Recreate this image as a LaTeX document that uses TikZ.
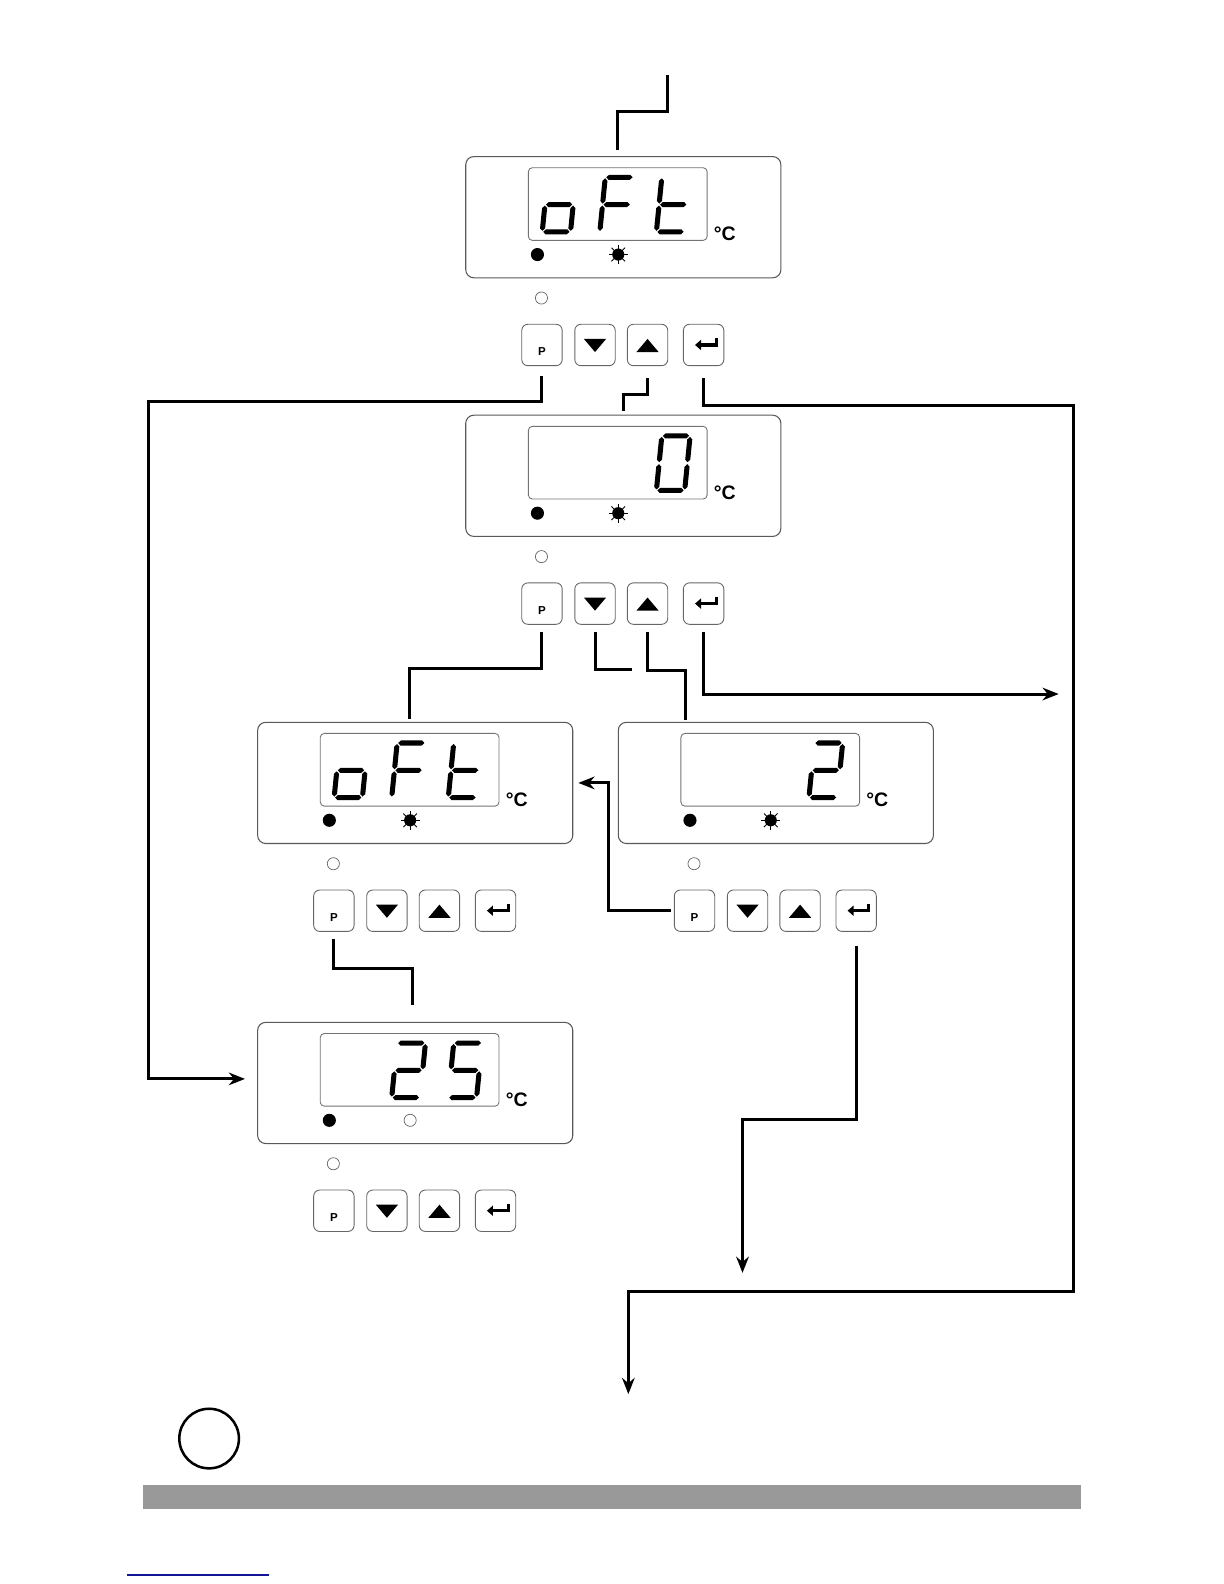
\documentclass[tikz,border=0pt]{standalone}
\usepackage{fontspec}
\setsansfont{Liberation Sans}
\usetikzlibrary{arrows.meta}

\definecolor{bargray}{HTML}{999999}
\definecolor{linkblue}{RGB}{20,20,150}

% one bar of a 7-segment digit
\newcommand{\hseg}[3]{\fill (#1,#3) -- (#1+2.5,#3-2.5) -- (#2-2.5,#3-2.5) -- (#2,#3) -- (#2-2.5,#3+2.5) -- (#1+2.5,#3+2.5) -- cycle;}
\newcommand{\vseg}[3]{\fill (#1,#2) -- (#1+2.5,#2+2.5) -- (#1+2.5,#3-2.5) -- (#1,#3) -- (#1-2.5,#3-2.5) -- (#1-2.5,#2+2.5) -- cycle;}
\newcommand{\sega}{\hseg{3.5}{29.5}{-56.5}}
\newcommand{\segb}{\vseg{30.5}{-55.5}{-30.5}}
\newcommand{\segc}{\vseg{30.5}{-28.5}{-3.5}}
\newcommand{\segd}{\hseg{3.5}{29.5}{-2.5}}
\newcommand{\sege}{\vseg{2.5}{-28.5}{-3.5}}
\newcommand{\segf}{\vseg{2.5}{-55.5}{-30.5}}
\newcommand{\segg}{\hseg{3.5}{29.5}{-29.5}}

% digit: lower left x, y, lit segments
\newcommand{\lcddigit}[3]{%
  \begin{scope}[shift={(#1,#2)}, xslant=0.1]
    \foreach \s in {#3} {\csname seg\s\endcsname}
  \end{scope}}

% controller front: name, left, top, lamp pic, digits
\newcommand{\panel}[5]{%
  \begin{scope}[shift={(#2,#3)}]
    \node[front] (#1) at (156,60) {};
    \node[lcd] (#1lcd) at (150.5,47) {};
    #5
    \node[degc] (#1deg) at (256.5,76.5) {°C};
    \fill (71,97) circle (0.13cm);
    \pic at (151,97) {#4};
    \draw[lamp] (75,140) circle (0.12cm);
    \node[btn] (#1p) at (75.5,186.5) {};
    \node[btn] (#1dn) at (128,186.5) {};
    \node[btn] (#1up) at (180,186.5) {};
    \node[btn] (#1en) at (235.5,186.5) {};
    \node[ptext] (#1pl) at (75.5,193) {P};
    \fill ([xshift=-0.22cm,yshift=0.12cm]#1dn.center) -- ++(22,0) -- ++(-11,13) -- cycle;
    \fill ([xshift=-0.22cm,yshift=-0.14cm]#1up.center) -- ++(22,0) -- ++(-11,-13) -- cycle;
    \draw[line width=0.06cm, -{Triangle[length=0.12cm,width=0.2cm]}]
      ([xshift=0.25cm,yshift=0.14cm]#1en.center) -- ++(0,7) -- ++(-21,0);
  \end{scope}}

\begin{document}
\begin{tikzpicture}[
        x = 0.02cm, y = -0.02cm, % one unit per pixel, y downwards
        > = {Stealth[length=0.32cm,width=0.25cm]}, % arrow head style
        conn/.style = {line width=0.06cm},
        front/.style = {draw=black!65, line width=0.6pt, rounded corners=0.16cm,
                        minimum width=6.24cm, minimum height=2.4cm, inner sep=0},
        lcd/.style = {draw=black!55, line width=0.5pt, rounded corners=0.08cm,
                      minimum width=3.54cm, minimum height=1.44cm, inner sep=0},
        btn/.style = {draw=black!60, line width=0.5pt, rounded corners=0.12cm,
                      minimum width=0.8cm, minimum height=0.82cm, inner sep=0},
        lamp/.style = {draw=black!60, line width=0.4pt},
        degc/.style = {font=\sffamily\bfseries\fontsize{11}{12}\selectfont, inner sep=0},
        ptext/.style = {font=\sffamily\bfseries\fontsize{6.5}{7}\selectfont, inner sep=0},
        sun/.pic = {\fill (0,0) circle (0.12cm);
                    \foreach \a in {0,45,...,315} \draw[line width=0.5pt] (\a:0.1cm) -- (\a:0.19cm);},
        off/.pic = {\draw[lamp] (0,0) circle (0.12cm);}
    ]
    \useasboundingbox (0,0) rectangle (1211.5,1568);

    \panel{u1}{461}{155}{sun}{\lcddigit{73}{77}{g,c,d,e}\lcddigit{130}{77}{a,f,g,e}\lcddigit{186}{77}{f,g,e,d}}
    \panel{u2}{461}{411}{sun}{\lcddigit{186}{77}{a,b,c,d,e,f}}
    \panel{u3}{255}{715}{sun}{\lcddigit{73}{77}{g,c,d,e}\lcddigit{130}{77}{a,f,g,e}\lcddigit{186}{77}{f,g,e,d}}
    \panel{u4}{612}{715}{sun}{\lcddigit{186}{77}{a,b,g,e,d}}
    \panel{u5}{255}{1012}{off}{\lcddigit{130}{77}{a,b,g,e,d}\lcddigit{186}{77}{a,f,g,c,d}}

    % free ends
    \coordinate (in) at (661,74);
    \coordinate (out1) at (622,1380);
    \coordinate (out2) at (1048,687);
    \coordinate (out3) at (735,1260);
    \coordinate (dnend) at (626,663);

    \draw[conn] (in) -- ++(0,36) -| ([xshift=-0.12cm,yshift=0.12cm]u1.north);
    \draw[conn,->] ([yshift=-0.2cm]u1p.south) |- (147,397) |- ([xshift=-0.24cm,yshift=0.08cm]u5.west);
    \draw[conn] ([yshift=-0.24cm]u1up.south) -- ++(0,16) -| ([yshift=0.08cm]u2.north);
    \draw[conn,->] ([yshift=-0.24cm]u1en.south) |- (1063,401) |- (622,1278) -- (out1);

    \draw[conn] ([yshift=-0.14cm]u2p.south) -- ++(0,36) -| ([xshift=-0.12cm,yshift=0.06cm]u3.north);
    \draw[conn] ([yshift=-0.14cm]u2dn.south) |- (dnend);
    \draw[conn] ([yshift=-0.14cm]u2up.south) -- ++(0,38) -| ([xshift=1.34cm,yshift=0.04cm]u4.north west);
    \draw[conn,->] ([yshift=-0.14cm]u2en.south) |- (out2);

    \draw[conn,->] ([xshift=-0.06cm]u4p.west) -| ([xshift=0.7cm]u3.east) -- ([xshift=0.1cm]u3.east);
    \draw[conn] ([yshift=-0.14cm]u3p.south) -- ++(0,29) -| ([xshift=-0.06cm,yshift=0.34cm]u5.north);
    \draw[conn,->] ([yshift=-0.28cm]u4en.south) |- (735,1108) -- (out3);

    % page foot
    \node[draw, circle, line width=0.05cm, minimum size=1.18cm, inner sep=0] (mark) at (207,1424) {};
    \fill[bargray] (142,1470) rectangle (1070,1494);
    \draw[linkblue, line width=0.03cm] (126,1559) -- (266,1559);
\end{tikzpicture}
\end{document}
